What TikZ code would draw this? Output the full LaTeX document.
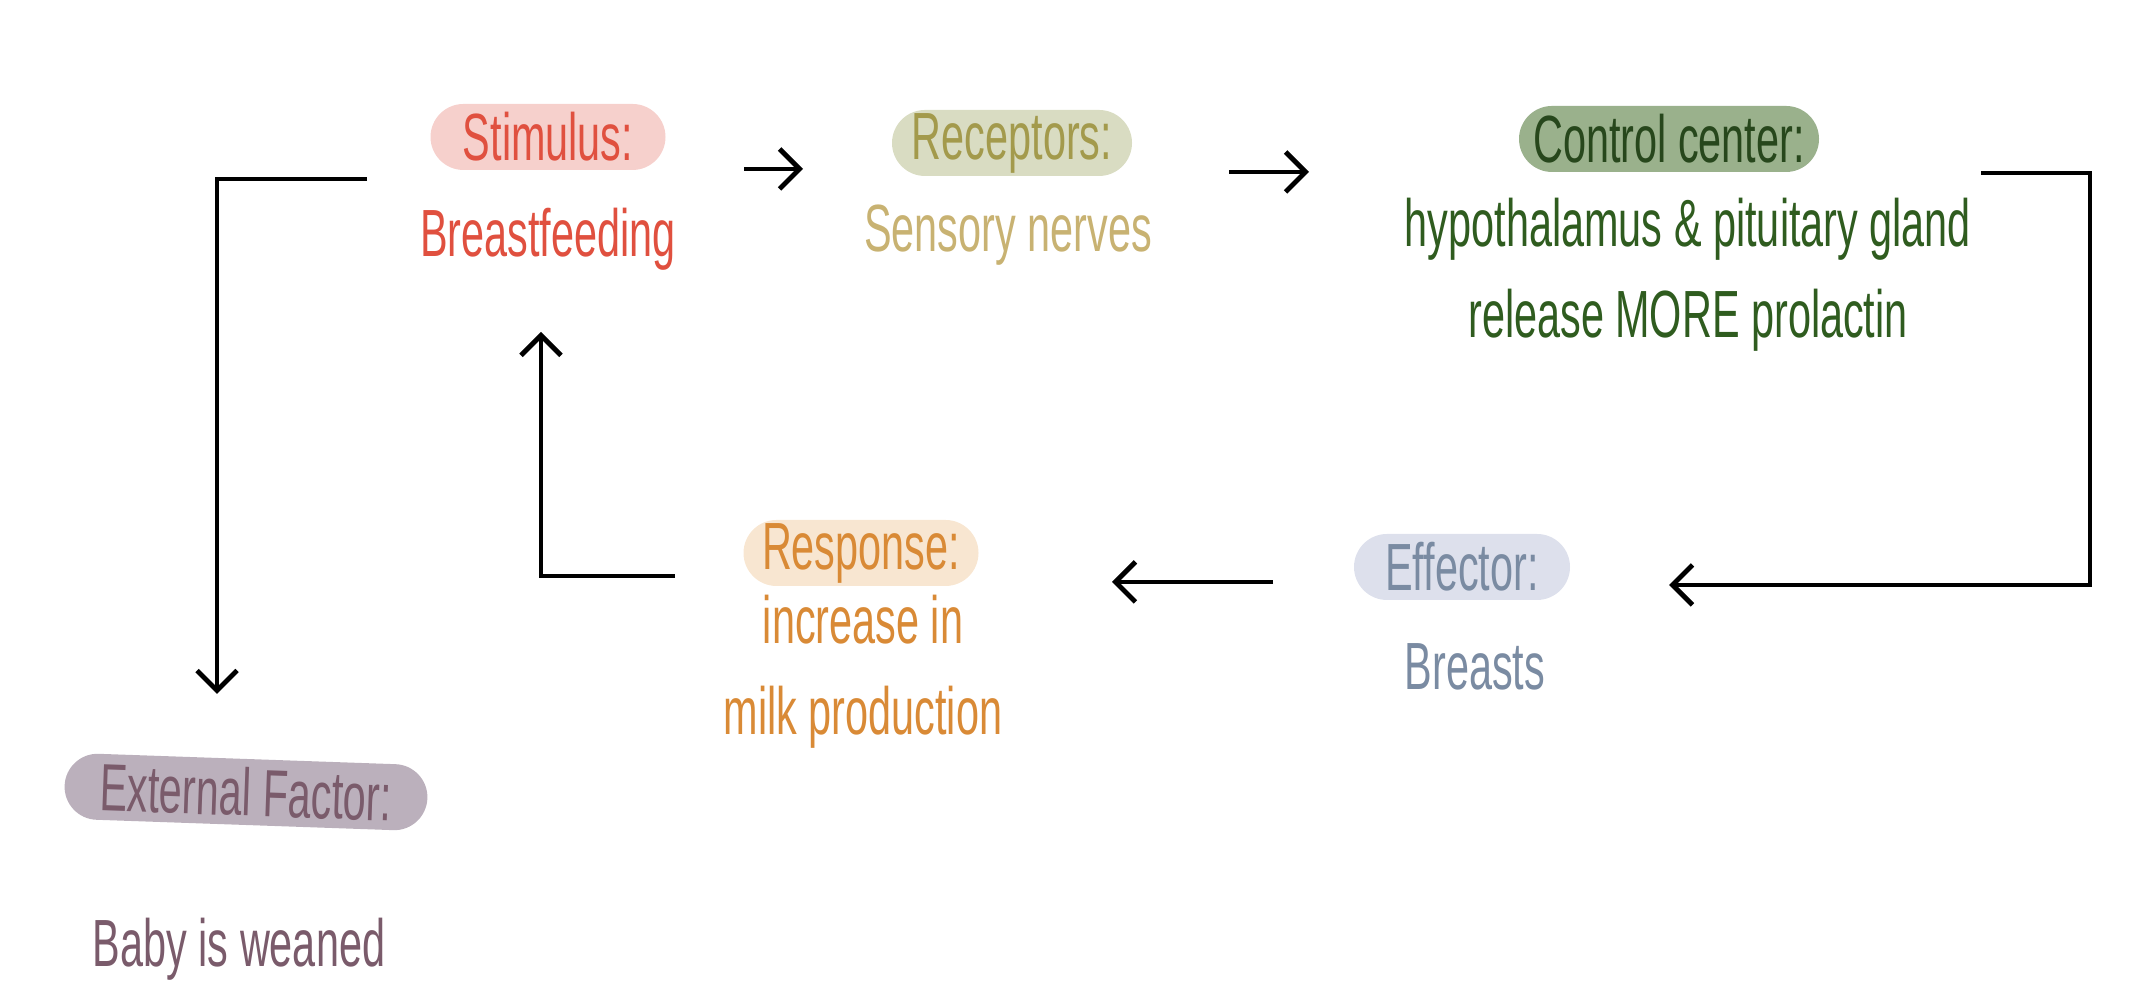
\documentclass[tikz,border=0pt]{standalone}
\usepackage{fontspec}
\setmainfont{Liberation Sans}[FakeStretch=0.62]
\usetikzlibrary{arrows.meta}
\definecolor{stimfill}{HTML}{F6D0CC}\definecolor{stimtext}{HTML}{E0503F}
\definecolor{recfill}{HTML}{D9DCC2}\definecolor{rectitle}{HTML}{A39A4C}\definecolor{rectext}{HTML}{C8B272}
\definecolor{ctrlfill}{HTML}{9AB18C}\definecolor{ctrltitle}{HTML}{27471C}\definecolor{ctrltext}{HTML}{2F5C1F}
\definecolor{efffill}{HTML}{DDE0EC}\definecolor{efftext}{HTML}{7A8BA2}
\definecolor{respfill}{HTML}{F8E6D1}\definecolor{resptext}{HTML}{D98A36}
\definecolor{extfill}{HTML}{BBB0BC}\definecolor{exttext}{HTML}{7A5B6B}
\tikzset{
	pill/.style={rounded corners=0.33cm, minimum height=0.66cm, inner sep=0pt, font=\fontsize{19}{21}\selectfont},
	note/.style={font=\fontsize{19}{26}\selectfont, align=center, inner sep=0pt},
	flow/.style={line width=1.4pt, -{Straight Barb[length=2mm,width=4mm]}}
}
\begin{document}
\begin{tikzpicture}
	\useasboundingbox (0,0) rectangle (21.42,10);
	% titles
	\node [pill, fill=stimfill, text=stimtext, minimum width=2.35cm] (stim) at (5.48,8.63) {Stimulus:};
	\node [pill, fill=recfill, text=rectitle, minimum width=2.4cm] (rec) at (10.12,8.57) {Receptors:};
	\node [pill, fill=ctrlfill, text=ctrltitle, minimum width=3cm] (ctrl) at (16.69,8.61) {Control center:};
	\node [pill, fill=efffill, text=efftext, minimum width=2.16cm] (eff) at (14.62,4.33) {Effector:};
	\node [pill, fill=respfill, text=resptext, minimum width=2.35cm] (resp) at (8.61,4.47) {Response:};
	\node [pill, fill=extfill, text=exttext, minimum width=3.63cm, rotate=-2] (ext) at (2.46,2.08) {External Factor:};
	% texts
	\node [note, text=stimtext] (stimtxt) at (5.48,7.61) {Breastfeeding};
	\node [note, text=rectext] (rectxt) at (10.08,7.65) {Sensory nerves};
	\node [note, text=ctrltext] (ctrltxt) at (16.88,7.25) {hypothalamus \& pituitary gland\\release MORE prolactin};
	\node [note, text=efftext] (efftxt) at (14.75,3.33) {Breasts};
	\node [note, text=resptext] (resptxt) at (8.63,3.28) {increase in\\milk production};
	\node [note, text=exttext] (exttxt) at (2.39,0.51) {Baby is weaned};
	% connector ends
	\coordinate (a1) at (7.44,8.31); \coordinate (a2) at (8.03,8.31);
	\coordinate (b1) at (12.29,8.28); \coordinate (b2) at (13.09,8.28);
	\coordinate (c1) at (19.81,8.27); \coordinate (c2) at (20.9,8.27);
	\coordinate (c3) at (20.9,4.15); \coordinate (c4) at (16.69,4.15);
	\coordinate (d1) at (12.73,4.18); \coordinate (d2) at (11.12,4.18);
	\coordinate (e1) at (6.75,4.24); \coordinate (e2) at (5.41,4.24); \coordinate (e3) at (5.41,6.68);
	\coordinate (f1) at (3.67,8.21); \coordinate (f2) at (2.17,8.21); \coordinate (f3) at (2.17,3.06);
	\draw [flow] (a1) -- (a2);
	\draw [flow] (b1) -- (b2);
	\draw [flow] (c1) -- (c2) -- (c3) -- (c4);
	\draw [flow] (d1) -- (d2);
	\draw [flow] (e1) -- (e2) -- (e3);
	\draw [flow] (f1) -- (f2) -- (f3);
\end{tikzpicture}
\end{document}
